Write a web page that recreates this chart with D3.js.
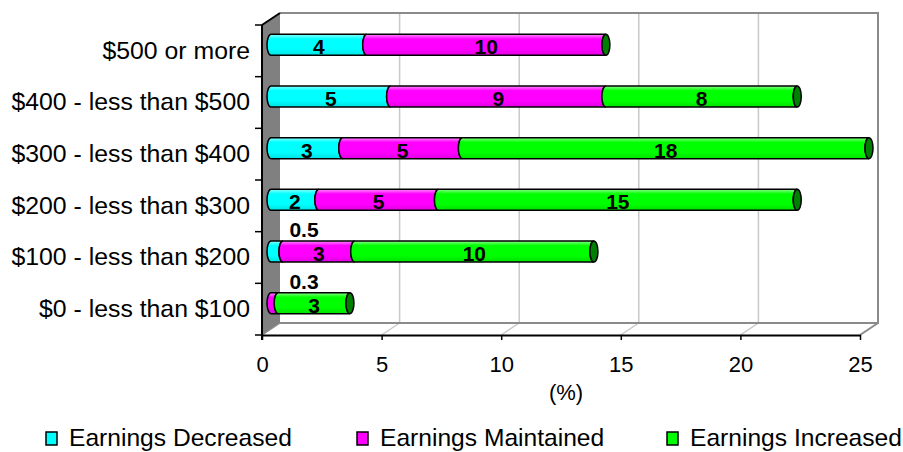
<!DOCTYPE html>
<html>
<head>
<meta charset="utf-8">
<script src="https://cdn.jsdelivr.net/npm/d3@7"></script>
<style>
  html, body { margin: 0; padding: 0; background: #fff; }
  svg { display: block; font-family: "Liberation Sans", Arial, sans-serif; }
</style>
</head>
<body>
<svg id="chart" width="903" height="452"></svg>
<script>
// Earnings change by income band (%)
const categories = [
  "$500 or more",
  "$400 - less than $500",
  "$300 - less than $400",
  "$200 - less than $300",
  "$100 - less than $200",
  "$0 - less than $100"
];
const seriesNames = ["Earnings Decreased", "Earnings Maintained", "Earnings Increased"];
const decreased  = [4, 5, 3, 2, 0.5, 0];
const maintained = [10, 9, 5, 5, 3, 0.3];
const increased  = [0, 8, 18, 15, 10, 3];
const xTicks = [0, 5, 10, 15, 20, 25];
const xTitle = "(%)";

const colors = ["#00ffff", "#ff00ff", "#00ff00"];
const capColor = "#008000";

const svg = d3.select("#chart");

// plot frame (front plane) and 3D depth offset
const pLeft = 262, pRight = 860, pTop = 25, pBottom = 335;
const depthX = 18, depthY = -12;

const keys = ["dec", "main", "inc"];
const rows = categories.map((c, i) => ({
  cat: c, dec: decreased[i], main: maintained[i], inc: increased[i]
}));
const stacked = d3.stack().keys(keys)(rows);

const x = d3.scaleLinear().domain([0, 25]).range([pLeft, pRight]);
const y = d3.scaleBand().domain(categories).range([pTop, pBottom]);

// bars sit half-way into the depth of the plot
const bx = d3.scaleLinear().domain([0, 25])
  .range([pLeft + depthX / 2, pRight + depthX / 2]).clamp(true);
const barH = 21;
const rx = 4, ry = barH / 2;
const barCY = c => y(c) + y.bandwidth() / 2 + depthY / 2;

// gradients
const defs = svg.append("defs");
colors.forEach((col, i) => {
  const g = defs.append("linearGradient")
    .attr("id", "grad" + i).attr("x1", 0).attr("y1", 0).attr("x2", 0).attr("y2", 1);
  g.append("stop").attr("offset", "0%").attr("stop-color", d3.interpolateRgb(col, "#ffffff")(0.55));
  g.append("stop").attr("offset", "22%").attr("stop-color", col);
  g.append("stop").attr("offset", "70%").attr("stop-color", col);
  g.append("stop").attr("offset", "100%").attr("stop-color", d3.color(col).darker(0.35));
});

// ---- walls and floor ----
const frame = svg.append("g");

// left wall
frame.append("path")
  .attr("d", `M${pLeft},${pTop} L${pLeft + depthX},${pTop + depthY} L${pLeft + depthX},${pBottom + depthY} L${pLeft},${pBottom} Z`)
  .attr("fill", "#808080");

const innerTicks = xTicks.filter(t => t > 0 && t < 25);

// back-wall gridlines
frame.selectAll("line.grid").data(innerTicks).join("line")
  .attr("class", "grid")
  .attr("x1", d => x(d) + depthX).attr("x2", d => x(d) + depthX)
  .attr("y1", pTop + depthY).attr("y2", pBottom + depthY)
  .attr("stroke", "#c8c8c8").attr("stroke-width", 1.5);

// floor gridlines
frame.selectAll("line.fgrid").data(innerTicks).join("line")
  .attr("class", "fgrid")
  .attr("x1", d => x(d)).attr("x2", d => x(d) + depthX)
  .attr("y1", pBottom).attr("y2", pBottom + depthY)
  .attr("stroke", "#c8c8c8").attr("stroke-width", 1.5);

// back wall outline
frame.append("path")
  .attr("d", `M${pLeft + depthX},${pBottom + depthY} L${pRight + depthX},${pBottom + depthY} L${pRight + depthX},${pTop + depthY} L${pLeft + depthX},${pTop + depthY}`)
  .attr("fill", "none").attr("stroke", "#8a8a8a").attr("stroke-width", 2);
frame.append("line")
  .attr("x1", pRight).attr("y1", pBottom).attr("x2", pRight + depthX).attr("y2", pBottom + depthY)
  .attr("stroke", "#8a8a8a").attr("stroke-width", 2);
frame.append("line")
  .attr("x1", pLeft).attr("y1", pTop).attr("x2", pLeft + depthX).attr("y2", pTop + depthY)
  .attr("stroke", "#000").attr("stroke-width", 2);
frame.append("line")
  .attr("x1", pLeft).attr("y1", pBottom).attr("x2", pLeft + depthX).attr("y2", pBottom + depthY)
  .attr("stroke", "#8a8a8a").attr("stroke-width", 1.5);

// ---- bars ----
const barsG = svg.append("g");

function segPath(xa, xb, cy) {
  const t = cy - ry, b = cy + ry;
  return `M${xa},${b} A${rx},${ry} 0 0 1 ${xa},${t} L${xb},${t} A${rx},${ry} 0 0 0 ${xb},${b} Z`;
}

stacked.forEach((layer, si) => {
  barsG.append("g").selectAll("path")
    .data(layer.filter(d => d[1] - d[0] > 0))
    .join("path")
    .attr("d", d => segPath(bx(d[0]), bx(d[1]), barCY(d.data.cat)))
    .attr("fill", `url(#grad${si})`)
    .attr("stroke", "#000").attr("stroke-width", 1.5);
});

// end caps
const lastLayer = stacked[stacked.length - 1];
barsG.append("g").selectAll("ellipse")
  .data(lastLayer)
  .join("ellipse")
  .attr("cx", d => bx(d[1]))
  .attr("cy", d => barCY(d.data.cat))
  .attr("rx", rx).attr("ry", ry)
  .attr("fill", capColor)
  .attr("stroke", "#000").attr("stroke-width", 1.5);

// value labels
const labelsG = svg.append("g")
  .attr("font-weight", "bold").attr("font-size", 21).attr("fill", "#000");
stacked.forEach(layer => {
  layer.forEach(d => {
    const v = d[1] - d[0];
    if (v <= 0) return;
    const cy = barCY(d.data.cat);
    if (v >= 1) {
      labelsG.append("text")
        .attr("x", (bx(d[0]) + bx(d[1])) / 2)
        .attr("y", cy + 2)
        .attr("dy", "0.35em")
        .attr("text-anchor", "middle")
        .text(v);
    } else {
      // small shares are labelled above the bar
      labelsG.append("text")
        .attr("x", bx(d[0]) + 33)
        .attr("y", cy - ry - 4)
        .attr("text-anchor", "middle")
        .text(v);
    }
  });
});

// ---- axes ----
const xAxis = svg.append("g")
  .attr("transform", `translate(0,${pBottom})`)
  .call(d3.axisBottom(x).tickValues(xTicks).tickSize(5).tickPadding(16).tickSizeOuter(0));
xAxis.select(".domain").attr("stroke", "#000").attr("stroke-width", 2);
xAxis.selectAll(".tick line").attr("stroke", "#000").attr("stroke-width", 1.5);
xAxis.selectAll("text").attr("font-size", 22).attr("font-family", "Liberation Sans, Arial, sans-serif").attr("fill", "#000");

const yAxis = svg.append("g")
  .attr("transform", `translate(${pLeft},0)`)
  .call(d3.axisLeft(y).tickSize(0).tickPadding(12));
yAxis.select(".domain").remove();
yAxis.selectAll("text").attr("font-size", 24.8).attr("font-family", "Liberation Sans, Arial, sans-serif").attr("fill", "#000");

// category separators on the vertical axis
const sepYs = categories.map(c => y(c)).concat([pBottom]);
svg.append("g").selectAll("line").data(sepYs).join("line")
  .attr("x1", pLeft - 7).attr("x2", pLeft).attr("y1", d => d).attr("y2", d => d)
  .attr("stroke", "#000").attr("stroke-width", 1.5);
svg.append("line")
  .attr("x1", pLeft).attr("x2", pLeft).attr("y1", pTop).attr("y2", pBottom + 5)
  .attr("stroke", "#000").attr("stroke-width", 2);

// axis title
svg.append("text")
  .attr("x", (pLeft + pRight) / 2 + 5).attr("y", 400)
  .attr("text-anchor", "middle").attr("font-size", 22).attr("fill", "#000")
  .text(xTitle);

// ---- legend ----
const legendX = [46, 357, 667];
const legend = svg.append("g");
seriesNames.forEach((name, i) => {
  const g = legend.append("g").attr("transform", `translate(${legendX[i]},0)`);
  g.append("rect").attr("x", 0).attr("y", 432).attr("width", 11).attr("height", 13)
    .attr("fill", colors[i]).attr("stroke", "#000").attr("stroke-width", 1.5);
  g.append("text").attr("x", 23).attr("y", 446)
    .attr("font-size", 24.6).attr("fill", "#000").text(name);
});
</script>
</body>
</html>
